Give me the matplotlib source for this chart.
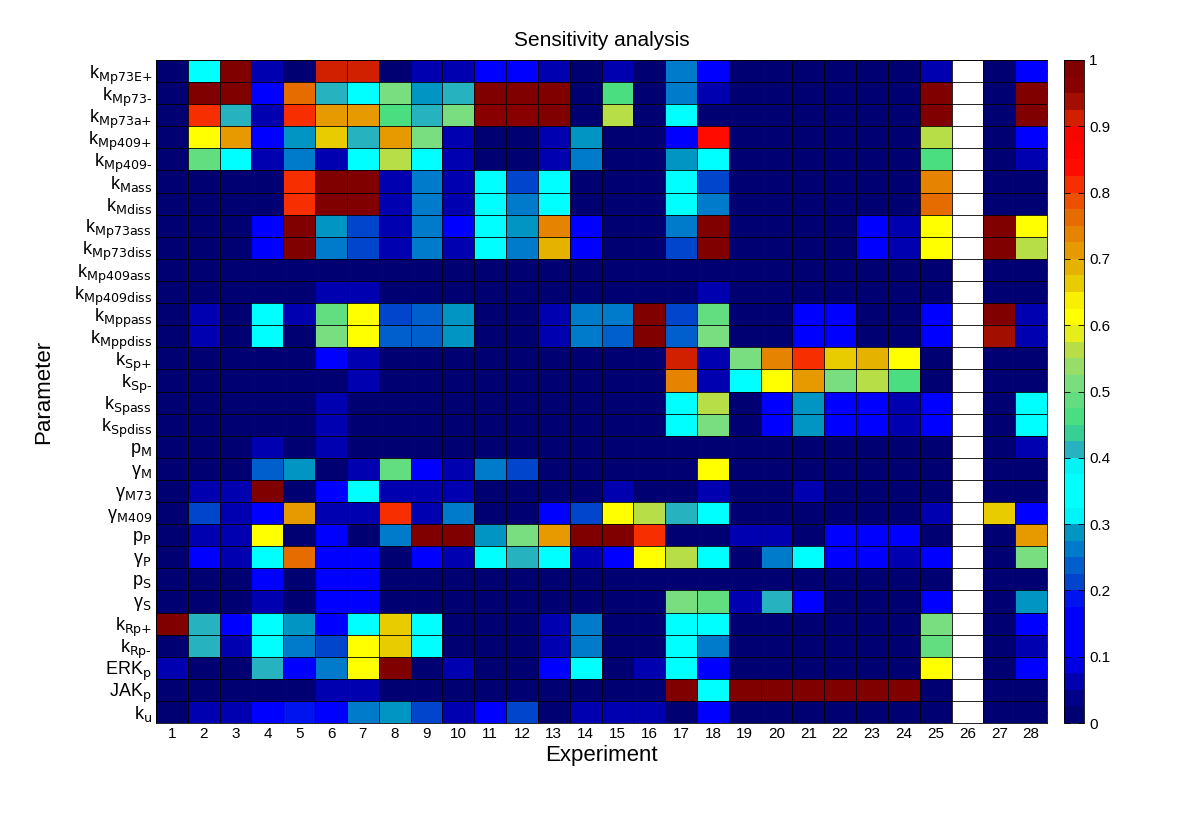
import numpy as np
import matplotlib
matplotlib.use("Agg")
import matplotlib.pyplot as plt
from matplotlib.colors import LinearSegmentedColormap

plt.rcParams["font.family"] = ["Liberation Sans", "DejaVu Sans"]
plt.rcParams["mathtext.default"] = "regular"

# parameter labels (rows) and experiments (columns)
params = [
    r"k$_{\text{Mp73E+}}$", r"k$_{\text{Mp73-}}$", r"k$_{\text{Mp73a+}}$",
    r"k$_{\text{Mp409+}}$", r"k$_{\text{Mp409-}}$", r"k$_{\text{Mass}}$",
    r"k$_{\text{Mdiss}}$", r"k$_{\text{Mp73ass}}$", r"k$_{\text{Mp73diss}}$",
    r"k$_{\text{Mp409ass}}$", r"k$_{\text{Mp409diss}}$", r"k$_{\text{Mppass}}$",
    r"k$_{\text{Mppdiss}}$", r"k$_{\text{Sp+}}$", r"k$_{\text{Sp-}}$",
    r"k$_{\text{Spass}}$", r"k$_{\text{Spdiss}}$", r"p$_{\text{M}}$",
    r"γ$_{\text{M}}$", r"γ$_{\text{M73}}$", r"γ$_{\text{M409}}$",
    r"p$_{\text{P}}$", r"γ$_{\text{P}}$", r"p$_{\text{S}}$", r"γ$_{\text{S}}$",
    r"k$_{\text{Rp+}}$", r"k$_{\text{Rp-}}$", r"ERK$_{\text{p}}$",
    r"JAK$_{\text{p}}$", r"k$_{\text{u}}$",
]
experiments = list(range(1, 29))

nan = np.nan
sens = [
    [.01, .35, .98, .05, .01, .92, .92, .01, .06, .05, .13, .13, .06, .01, .06, .01, .25, .14, .01, .01, .01, .01, .01, .01, .05, nan, .01, .13],
    [.01, .98, .98, .12, .77, .41, .36, .51, .29, .41, .98, .98, .98, .01, .46, .01, .26, .05, .01, .01, .01, .01, .01, .01, .98, nan, .01, .98],
    [.01, .80, .40, .05, .80, .70, .70, .46, .40, .50, .95, .95, .98, .01, .56, .01, .35, .01, .01, .01, .01, .01, .01, .01, .98, nan, .01, .98],
    [.01, .61, .70, .12, .29, .66, .40, .70, .52, .05, .01, .01, .05, .28, .01, .01, .12, .84, .01, .01, .01, .01, .01, .01, .56, nan, .01, .12],
    [.01, .48, .36, .05, .25, .06, .36, .56, .36, .05, .01, .01, .05, .25, .01, .01, .29, .36, .01, .01, .01, .01, .01, .01, .46, nan, .01, .05],
    [.01, .01, .01, .01, .80, .98, .98, .05, .25, .05, .36, .22, .36, .01, .01, .01, .36, .22, .01, .01, .01, .01, .01, .01, .74, nan, .01, .01],
    [.01, .01, .01, .01, .82, .98, .98, .05, .25, .05, .36, .25, .36, .01, .01, .01, .36, .26, .01, .01, .01, .01, .01, .01, .77, nan, .01, .01],
    [.01, .01, .01, .12, .98, .29, .22, .05, .25, .12, .36, .29, .74, .12, .01, .01, .25, .98, .01, .01, .01, .01, .12, .06, .62, nan, .98, .60],
    [.01, .01, .01, .12, .98, .25, .22, .05, .25, .05, .36, .25, .68, .12, .01, .01, .22, .98, .01, .01, .01, .01, .12, .06, .62, nan, .98, .56],
    [.01, .01, .01, .01, .01, .01, .01, .01, .01, .01, .01, .01, .01, .01, .01, .01, .01, .01, .01, .01, .01, .01, .01, .01, .01, nan, .01, .01],
    [.01, .01, .01, .01, .01, .05, .05, .01, .01, .01, .01, .01, .01, .01, .01, .01, .01, .05, .01, .01, .01, .01, .01, .01, .01, nan, .01, .01],
    [.01, .05, .01, .36, .05, .49, .62, .20, .23, .29, .01, .01, .05, .25, .25, .98, .20, .49, .01, .01, .12, .12, .01, .01, .12, nan, .98, .05],
    [.01, .05, .01, .36, .01, .52, .62, .23, .23, .29, .01, .01, .05, .27, .23, .98, .24, .52, .01, .01, .12, .12, .01, .01, .12, nan, .94, .05],
    [.01, .01, .01, .01, .01, .12, .05, .01, .01, .01, .01, .01, .01, .01, .01, .01, .92, .05, .52, .74, .80, .67, .69, .61, .01, nan, .01, .01],
    [.01, .01, .01, .01, .01, .01, .05, .01, .01, .01, .01, .01, .01, .01, .01, .01, .74, .05, .36, .61, .70, .52, .56, .46, .01, nan, .01, .01],
    [.01, .01, .01, .01, .01, .05, .01, .01, .01, .01, .01, .01, .01, .01, .01, .01, .36, .56, .01, .12, .29, .12, .12, .06, .12, nan, .01, .36],
    [.01, .01, .01, .01, .01, .05, .01, .01, .01, .01, .01, .01, .01, .01, .01, .01, .36, .52, .01, .12, .29, .12, .12, .06, .12, nan, .01, .36],
    [.01, .01, .01, .05, .01, .05, .01, .01, .01, .01, .01, .01, .01, .01, .01, .01, .01, .01, .01, .01, .01, .01, .01, .01, .01, nan, .01, .05],
    [.01, .01, .01, .23, .29, .01, .05, .48, .12, .05, .25, .20, .01, .01, .01, .01, .01, .62, .01, .01, .01, .01, .01, .01, .01, nan, .01, .01],
    [.01, .05, .05, .98, .01, .12, .36, .05, .05, .05, .01, .01, .01, .01, .05, .01, .01, .05, .01, .01, .05, .01, .01, .01, .01, nan, .01, .01],
    [.01, .20, .05, .12, .70, .05, .05, .80, .05, .25, .01, .01, .12, .22, .62, .56, .40, .36, .01, .01, .01, .01, .01, .01, .05, nan, .67, .12],
    [.01, .05, .05, .62, .01, .12, .01, .27, .98, .98, .29, .52, .70, .98, .98, .80, .01, .01, .05, .05, .01, .12, .12, .12, .01, nan, .01, .70],
    [.01, .12, .05, .36, .77, .12, .12, .01, .12, .05, .36, .40, .36, .05, .12, .61, .56, .36, .01, .25, .36, .12, .12, .07, .12, nan, .01, .50],
    [.01, .01, .01, .12, .01, .12, .12, .01, .01, .01, .01, .01, .01, .01, .01, .01, .01, .01, .01, .01, .01, .01, .01, .01, .01, nan, .01, .01],
    [.01, .01, .01, .05, .01, .12, .12, .01, .01, .01, .01, .01, .01, .01, .01, .01, .50, .48, .05, .41, .12, .01, .01, .01, .12, nan, .01, .29],
    [.98, .40, .12, .36, .29, .12, .36, .67, .36, .01, .01, .01, .05, .25, .01, .01, .36, .36, .01, .01, .01, .01, .01, .01, .52, nan, .01, .12],
    [.01, .40, .05, .36, .25, .22, .61, .67, .36, .01, .01, .01, .05, .25, .01, .01, .36, .25, .01, .01, .01, .01, .01, .01, .49, nan, .01, .05],
    [.05, .01, .01, .40, .12, .25, .62, .98, .01, .05, .01, .01, .12, .36, .01, .05, .36, .12, .01, .01, .01, .01, .01, .01, .62, nan, .01, .12],
    [.01, .01, .01, .01, .01, .05, .05, .01, .01, .01, .01, .01, .01, .01, .01, .01, .98, .36, .98, .98, .98, .98, .98, .98, .01, nan, .01, .01],
    [.01, .05, .05, .12, .19, .12, .25, .29, .20, .05, .12, .22, .01, .05, .05, .05, .01, .12, .01, .01, .01, .01, .01, .01, .01, nan, .01, .01],
]

# custom jet-like map with plateaus, stepped like the original colorbar
anchors = [
    (0.00, (0, 0, 0.45)), (0.03, (0, 0, 0.55)), (0.06, (0, 0, 0.75)),
    (0.09, (0, 0, 1)), (0.17, (0, 0, 1)), (0.20, (0, 0.25, 0.8)),
    (0.25, (0, 0.45, 0.8)), (0.29, (0, 0.62, 0.75)), (0.31, (0, 1, 1)),
    (0.38, (0, 1, 1)), (0.41, (0.15, 0.7, 0.75)), (0.45, (0.25, 0.87, 0.5)),
    (0.52, (0.5, 0.87, 0.5)), (0.58, (0.8, 0.87, 0.2)), (0.60, (1, 1, 0)),
    (0.63, (1, 1, 0)), (0.67, (0.9, 0.78, 0)), (0.71, (0.9, 0.63, 0)),
    (0.77, (0.9, 0.42, 0)), (0.81, (0.95, 0.25, 0)), (0.84, (1, 0.05, 0)),
    (0.89, (1, 0, 0)), (0.93, (0.78, 0.15, 0)), (0.96, (0.55, 0, 0)),
    (1.00, (0.5, 0, 0)),
]
cmap = LinearSegmentedColormap.from_list("sens", anchors, N=40)
cmap.set_bad("white")

data = np.ma.masked_invalid(np.array(sens))
nrow, ncol = data.shape

fig = plt.figure(figsize=(12, 8.13), dpi=100)
ax = fig.add_axes([0.13, 0.1107, 0.7425, 0.8155])
cax = fig.add_axes([0.8867, 0.1107, 0.0167, 0.8155])

xe = np.arange(ncol + 1) + 0.5
ye = np.arange(nrow + 1) + 0.5
mesh = ax.pcolormesh(xe, ye, data, cmap=cmap, vmin=0, vmax=1)
ax.hlines(ye, 0.5, ncol + 0.5, color="black", lw=0.6, zorder=2)
ax.vlines(xe, 0.5, nrow + 0.5, color="black", lw=0.6, zorder=2)

ax.set_xlim(0.5, ncol + 0.5)
ax.set_ylim(nrow + 0.5, 0.5)
ax.set_xticks(np.arange(1, ncol + 1))
ax.set_xticklabels([str(e) for e in experiments], fontsize=11)
ax.set_yticks(np.arange(1, nrow + 1))
ax.set_yticklabels(params, fontsize=13)
ax.set_axisbelow(True)
ax.tick_params(direction="in", top=True, right=True, length=4, width=0.6, pad=3)
for s in ax.spines.values():
    s.set_linewidth(0.6)

ax.set_title("Sensitivity analysis", fontsize=15, pad=10)
ax.set_xlabel("Experiment", fontsize=16, labelpad=3)
ax.set_ylabel("Parameter", fontsize=16, labelpad=14)

cb = fig.colorbar(mesh, cax=cax)
cb.set_ticks(np.linspace(0, 1, 11))
cb.set_ticklabels(["0", "0.1", "0.2", "0.3", "0.4", "0.5", "0.6", "0.7", "0.8", "0.9", "1"])
cax.tick_params(direction="in", left=True, right=True, length=4, width=0.6, labelsize=11)
cb.outline.set_linewidth(0.6)

fig.savefig("out.png", dpi=100)
